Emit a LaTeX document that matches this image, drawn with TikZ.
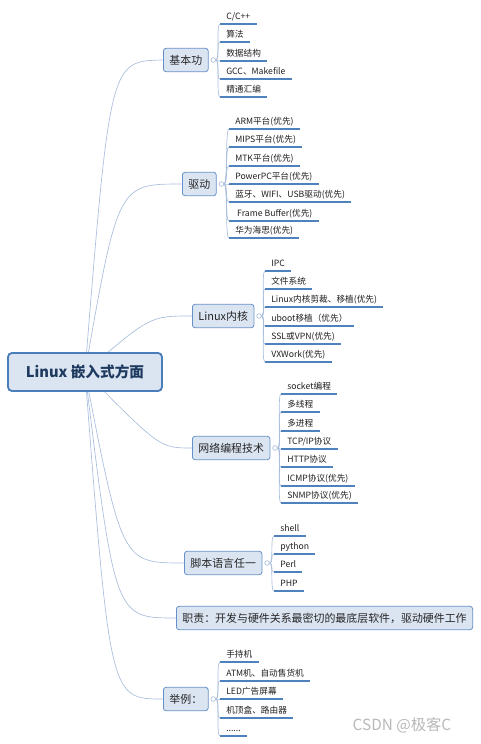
\documentclass[tikz,border=0pt]{standalone}
\usepackage{fontspec}
\setmainfont{Noto Sans CJK SC}
\usepackage{xcolor}
\usetikzlibrary{positioning, backgrounds}
\definecolor{boxfill}{HTML}{DBE5F2}
\definecolor{boxline}{HTML}{6690C8}
\definecolor{rootline}{HTML}{4A7EBB}
\definecolor{roottext}{HTML}{1F3A5F}
\definecolor{linkline}{HTML}{A9BEDC}
\definecolor{ulblue}{HTML}{4F81BD}

\begin{document}
\begin{tikzpicture}[x=0.75pt,y=0.75pt,yscale=-1,xscale=1,
  rootbox/.style={draw=rootline, line width=1.4pt, rounded corners=3pt, fill=boxfill, text=roottext, font=\fontsize{11}{13}\selectfont\bfseries, minimum width=115.5pt, minimum height=28.5pt},
  branch/.style={draw=boxline, line width=0.6pt, rounded corners=2pt, fill=boxfill, text=black!85, font=\fontsize{8.2}{10}\selectfont, inner xsep=4.5pt, minimum height=17.5pt, anchor=west},
  knob/.style={circle, draw=linkline, fill=white, line width=0.5pt, minimum size=3.5pt, inner sep=0pt},
  uline/.style={draw=ulblue, line width=1.1pt},
  link/.style={draw=linkline, line width=0.5pt},
  leaf/.style={anchor=south west, inner xsep=4.5pt, inner ysep=1.6pt, text=black!88, font=\fontsize{6.5}{7.8}\selectfont, text height=5.2pt, text depth=1.3pt, append after command={(\tikzlastnode.south west) edge[uline] (\tikzlastnode.south east)}}]
\useasboundingbox (0,0) rectangle (480,744);

% Root Node
\node [rootbox] (root) at (85,372) {Linux 嵌入式方面};

% Branch Nodes
\node [branch] (b1) at (163,60) {基本功};
\node [branch] (b2) at (182,184) {驱动};
\node [branch] (b3) at (192,316) {Linux内核};
\node [branch] (b4) at (192,448) {网络编程技术};
\node [branch] (b5) at (184,563) {脚本语言任一};
\node [branch] (b6) at (176,618) {职责：开发与硬件关系最密切的最底层软件，驱动硬件工作};
\node [branch] (b7) at (163,699) {举例：};

% Knobs
\node [knob, right=1.5pt of b1] (k1) {};
\node [knob, right=1.5pt of b2] (k2) {};
\node [knob, right=1.5pt of b3] (k3) {};
\node [knob, right=1.5pt of b4] (k4) {};
\node [knob, right=1.5pt of b5] (k5) {};
\node [knob, right=1.5pt of b7] (k7) {};

% Leaves: 基本功
\node [leaf] (l11) at (220,24) {C/C++};
\node [leaf] (l12) at (220,42) {算法};
\node [leaf] (l13) at (220,61) {数据结构};
\node [leaf] (l14) at (220,79) {GCC、Makefile};
\node [leaf] (l15) at (220,97) {精通汇编};

% Leaves: 驱动
\node [leaf] (l21) at (229,129) {ARM平台(优先)};
\node [leaf] (l22) at (229,147) {MIPS平台(优先)};
\node [leaf] (l23) at (229,166) {MTK平台(优先)};
\node [leaf] (l24) at (229,184) {PowerPC平台(优先)};
\node [leaf] (l25) at (229,202) {蓝牙、WIFI、USB驱动(优先)};
\node [leaf] (l26) at (229,221) {\ Frame Buffer(优先)};
\node [leaf] (l27) at (229,238) {华为海思(优先)};

% Leaves: Linux内核
\node [leaf] (l31) at (265,271) {IPC};
\node [leaf] (l32) at (265,289) {文件系统};
\node [leaf] (l33) at (265,307) {Linux内核剪裁、移植(优先)};
\node [leaf] (l34) at (265,326) {uboot移植（优先）};
\node [leaf] (l35) at (265,344) {SSL或VPN(优先)};
\node [leaf] (l36) at (265,362) {VXWork(优先)};

% Leaves: 网络编程技术
\node [leaf] (l41) at (281,394) {socket编程};
\node [leaf] (l42) at (281,412) {多线程};
\node [leaf] (l43) at (281,431) {多进程};
\node [leaf] (l44) at (281,449) {TCP/IP协议};
\node [leaf] (l45) at (281,467) {HTTP协议};
\node [leaf] (l46) at (281,486) {ICMP协议(优先)};
\node [leaf] (l47) at (281,503) {SNMP协议(优先)};

% Leaves: 脚本语言任一
\node [leaf] (l51) at (274,536) {shell};
\node [leaf] (l52) at (274,554) {python};
\node [leaf] (l53) at (274,572) {Perl};
\node [leaf] (l54) at (274,591) {PHP};

% Leaves: 举例
\node [leaf] (l71) at (220,662) {手持机};
\node [leaf] (l72) at (220,681) {ATM机、自动售货机};
\node [leaf] (l73) at (220,699) {LED广告屏幕};
\node [leaf] (l74) at (220,718) {机顶盒、路由器};
\node [leaf] (l75) at (220,736) {......};

% Watermark
\node [text=black!28, font=\fontsize{11.5}{13}\selectfont] (mark) at (402,725) {CSDN @极客C};

% Root links
\begin{scope}[on background layer]
\draw [link] (root.center) .. controls (110,61) .. (b1.west);
\draw [link] (root.center) .. controls (118,184) .. (b2.west);
\draw [link] (root.center) .. controls (150,316) .. (b3.west);
\draw [link] (root.center) .. controls (160,448) .. (b4.west);
\draw [link] (root.center) .. controls (122,563) .. (b5.west);
\draw [link] (root.center) .. controls (115,618) .. (b6.west);
\draw [link] (root.center) .. controls (110,699) .. (b7.west);
\end{scope}

% Leaf links
\draw [link] (k1.east) .. controls +(4,0) and +(-4,0) .. (l11.south west);
\draw [link] (k1.east) .. controls +(4,0) and +(-4,0) .. (l12.south west);
\draw [link] (k1.east) .. controls +(4,0) and +(-4,0) .. (l13.south west);
\draw [link] (k1.east) .. controls +(4,0) and +(-4,0) .. (l14.south west);
\draw [link] (k1.east) .. controls +(4,0) and +(-4,0) .. (l15.south west);

\draw [link] (k2.east) .. controls +(4,0) and +(-4,0) .. (l21.south west);
\draw [link] (k2.east) .. controls +(4,0) and +(-4,0) .. (l22.south west);
\draw [link] (k2.east) .. controls +(4,0) and +(-4,0) .. (l23.south west);
\draw [link] (k2.east) .. controls +(4,0) and +(-4,0) .. (l24.south west);
\draw [link] (k2.east) .. controls +(4,0) and +(-4,0) .. (l25.south west);
\draw [link] (k2.east) .. controls +(4,0) and +(-4,0) .. (l26.south west);
\draw [link] (k2.east) .. controls +(4,0) and +(-4,0) .. (l27.south west);

\draw [link] (k3.east) .. controls +(4,0) and +(-4,0) .. (l31.south west);
\draw [link] (k3.east) .. controls +(4,0) and +(-4,0) .. (l32.south west);
\draw [link] (k3.east) .. controls +(4,0) and +(-4,0) .. (l33.south west);
\draw [link] (k3.east) .. controls +(4,0) and +(-4,0) .. (l34.south west);
\draw [link] (k3.east) .. controls +(4,0) and +(-4,0) .. (l35.south west);
\draw [link] (k3.east) .. controls +(4,0) and +(-4,0) .. (l36.south west);

\draw [link] (k4.east) .. controls +(4,0) and +(-4,0) .. (l41.south west);
\draw [link] (k4.east) .. controls +(4,0) and +(-4,0) .. (l42.south west);
\draw [link] (k4.east) .. controls +(4,0) and +(-4,0) .. (l43.south west);
\draw [link] (k4.east) .. controls +(4,0) and +(-4,0) .. (l44.south west);
\draw [link] (k4.east) .. controls +(4,0) and +(-4,0) .. (l45.south west);
\draw [link] (k4.east) .. controls +(4,0) and +(-4,0) .. (l46.south west);
\draw [link] (k4.east) .. controls +(4,0) and +(-4,0) .. (l47.south west);

\draw [link] (k5.east) .. controls +(4,0) and +(-4,0) .. (l51.south west);
\draw [link] (k5.east) .. controls +(4,0) and +(-4,0) .. (l52.south west);
\draw [link] (k5.east) .. controls +(4,0) and +(-4,0) .. (l53.south west);
\draw [link] (k5.east) .. controls +(4,0) and +(-4,0) .. (l54.south west);

\draw [link] (k7.east) .. controls +(4,0) and +(-4,0) .. (l71.south west);
\draw [link] (k7.east) .. controls +(4,0) and +(-4,0) .. (l72.south west);
\draw [link] (k7.east) .. controls +(4,0) and +(-4,0) .. (l73.south west);
\draw [link] (k7.east) .. controls +(4,0) and +(-4,0) .. (l74.south west);
\draw [link] (k7.east) .. controls +(4,0) and +(-4,0) .. (l75.south west);

\end{tikzpicture}
\end{document}
